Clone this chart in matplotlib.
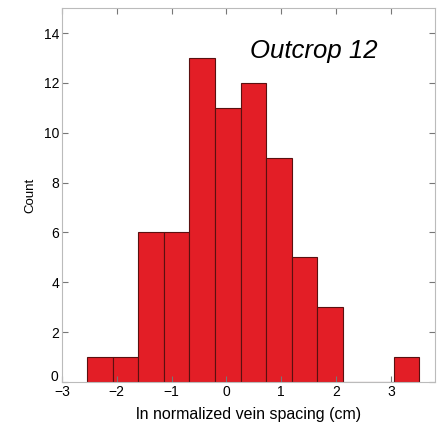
import numpy as np
import matplotlib
matplotlib.use("Agg")
import matplotlib.pyplot as plt
import matplotlib.transforms as mtransforms

# histogram
bin_start = -2.54
bin_width = 0.466
counts = [1, 1, 6, 6, 13, 11, 12, 9, 5, 3, 0, 0, 1]
xticks = [-3, -2, -1, 0, 1, 2, 3]
yticks = [0, 2, 4, 6, 8, 10, 12, 14]

edges = bin_start + bin_width * np.arange(len(counts) + 1)

plt.rcParams['font.family'] = ['Liberation Sans', 'DejaVu Sans']
plt.rcParams['axes.unicode_minus'] = True

fig = plt.figure(figsize=(4.41, 4.28), dpi=100)
ax = fig.add_axes([0.1406, 0.1075, 0.8454, 0.8735])

ax.bar(edges[:-1], counts, width=bin_width, align='edge',
       color='#e31e26', edgecolor='#5a1010', linewidth=0.8)

ax.set_xlim(-3, 3.8)
ax.set_ylim(0, 15)
ax.set_xticks(xticks)
ax.set_yticks(yticks)
ax.set_xticklabels([str(t).replace('-', '\u2212') for t in xticks])
ax.tick_params(direction='in', top=True, right=True, length=4, width=0.8,
               color='#777777', labelsize=10, pad=2)
for s in ax.spines.values():
    s.set_color('#bbbbbb')
    s.set_linewidth(0.8)

# lift the "0" on the y axis a little, as in the original, so it clears "-3"
lbl0 = ax.get_yticklabels()[0]
lbl0.set_transform(lbl0.get_transform() +
                   mtransforms.ScaledTranslation(-1 / 72, 5 / 72, fig.dpi_scale_trans))

ax.set_xlabel('ln normalized vein spacing (cm)', fontsize=11.5, labelpad=6)
ax.set_ylabel('Count', fontsize=9.5, labelpad=5)

ax.text(0.43, 13.3, 'Outcrop 12', fontsize=18.5, style='italic', va='center')

fig.savefig('out.png', dpi=100)
